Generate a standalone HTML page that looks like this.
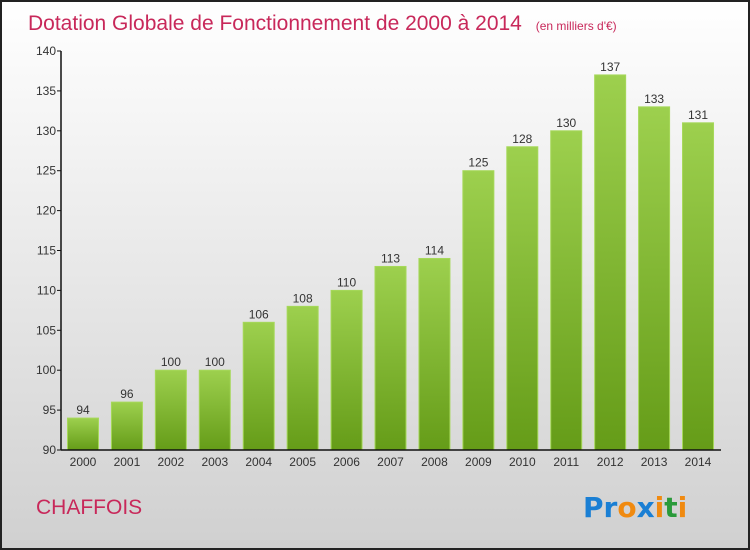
<!DOCTYPE html>
<html><head><meta charset="utf-8"><style>
html,body{margin:0;padding:0;width:750px;height:550px;overflow:hidden}
svg{display:block;font-family:"Liberation Sans",sans-serif}
</style></head><body>
<svg id="chart" width="750" height="550">
<defs>
<linearGradient id="bg" x1="0" y1="0" x2="0" y2="1"><stop offset="0" stop-color="#ffffff"/><stop offset="1" stop-color="#d0d0d0"/></linearGradient>
<linearGradient id="bar" x1="0" y1="0" x2="0" y2="1"><stop offset="0" stop-color="#9dd04e"/><stop offset="1" stop-color="#659c18"/></linearGradient>
</defs>
<rect x="1" y="1" width="748" height="548" fill="url(#bg)" stroke="#222" stroke-width="2"/>
<text x="28" y="30" font-size="21" fill="#c8285a">Dotation Globale de Fonctionnement de 2000 à 2014 <tspan font-size="12" dx="8">(en milliers d'€)</tspan></text>
<text x="36" y="514" font-size="21" fill="#c8285a">CHAFFOIS</text>
<g font-size="28" font-weight="bold" font-family="'DejaVu Sans',sans-serif">
<text x="583" y="517"><tspan fill="#1a7fd4">Pr</tspan><tspan fill="#f08a10">o</tspan><tspan fill="#1a7fd4">x</tspan><tspan fill="#f08a10">i</tspan><tspan fill="#2a9a3a">t</tspan><tspan fill="#f08a10">i</tspan></text>
</g>
<g id="plot"></g>
</svg>
<script>
const categories=["2000","2001","2002","2003","2004","2005","2006","2007","2008","2009","2010","2011","2012","2013","2014"];
const values=[94,96,100,100,106,108,110,113,114,125,128,130,137,133,131];
const yTicks=[90,95,100,105,110,115,120,125,130,135,140];
const ns="http://www.w3.org/2000/svg";
const g=document.getElementById('plot');
const y=v=>450-(v-90)*(399/50);
const x=i=>83+i*43.93;
function mk(t,a,txt){const e=document.createElementNS(ns,t);for(const k in a)e.setAttribute(k,a[k]);if(txt!=null)e.textContent=txt;g.appendChild(e);return e;}
values.forEach((v,i)=>{
 const r=mk('rect',{x:x(i)-15.5,y:y(v),width:31,height:450-y(v),fill:'url(#bar)',stroke:'#a6d85a','stroke-width':1});
 
 
 const t=mk('text',{x:x(i),y:y(v)-4,'text-anchor':'middle','font-size':12,fill:'#333'},String(v));
 
 
 const c=mk('text',{x:x(i),y:466,'text-anchor':'middle','font-size':12,fill:'#333'},categories[i]);
 
 
});
yTicks.forEach(v=>{
 const l=mk('line',{x1:57,x2:61,y1:y(v),y2:y(v),stroke:'#111'});
 
 
 const t=mk('text',{x:56,y:y(v)+4,'text-anchor':'end','font-size':12,fill:'#333'},String(v));
 
 
});
const ya=mk('line',{x1:61,x2:61,y1:y(140),y2:450,stroke:'#111','stroke-width':1.5});


const xa=mk('line',{x1:61,x2:721,y1:450,y2:450,stroke:'#111','stroke-width':1.5});


</script>
</body></html>
